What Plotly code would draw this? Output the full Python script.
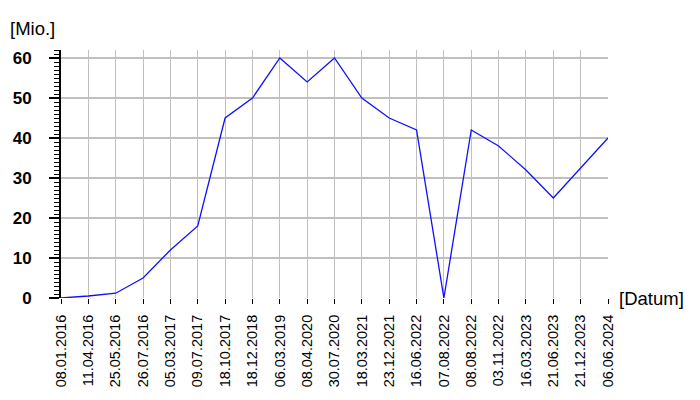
import plotly.graph_objects as go

dates = ["08.01.2016", "11.04.2016", "25.05.2016", "26.07.2016", "05.03.2017",
         "09.07.2017", "18.10.2017", "18.12.2018", "06.03.2019", "08.04.2020",
         "30.07.2020", "18.03.2021", "23.12.2021", "16.06.2022", "07.08.2022",
         "08.08.2022", "03.11.2022", "16.03.2023", "21.06.2023", "21.12.2023",
         "06.06.2024"]
values = [0, 0.5, 1.2, 5, 12, 18, 45, 50, 60, 54, 60, 50, 45, 42, 0,
          42, 38, 32, 25, 32.5, 40]
positions = list(range(len(dates)))
major_positions = positions[5::5]
y_ticks = [0, 10, 20, 30, 40, 50, 60]

FONT = "Liberation Sans, Arial, sans-serif"
GRID = "#c0c0c0"

fig = go.Figure()
fig.add_trace(go.Scatter(
    x=positions, y=values, mode="lines",
    line=dict(color="#1010ff", width=1.3),
    xaxis="x2", yaxis="y", showlegend=False, hoverinfo="skip",
))

fig.update_layout(
    template="none",
    width=700, height=400,
    margin=dict(l=53, r=100, t=42, b=110, autoexpand=False),
    paper_bgcolor="white", plot_bgcolor="white",
    font=dict(family=FONT, color="black"),
    xaxis=dict(
        range=[0, 20], tickvals=major_positions, showticklabels=False,
        ticks="outside", ticklen=8, tickwidth=2, tickcolor="black",
        showgrid=True, gridcolor=GRID, gridwidth=2,
        showline=True, linecolor="black", linewidth=2, zeroline=False,
        automargin=False,
    ),
    xaxis2=dict(
        range=[0, 20], overlaying="x", anchor="y", side="bottom",
        tickvals=positions, ticktext=dates, tickangle=-90,
        tickfont=dict(family=FONT, size=14.5, color="black"),
        ticks="outside", ticklen=5, tickwidth=1, tickcolor="black",
        showgrid=True, gridcolor=GRID, gridwidth=1,
        showline=False, zeroline=False, ticklabelstandoff=5,
        automargin=False,
    ),
    yaxis=dict(
        range=[0, 62], tickvals=y_ticks,
        tickfont=dict(family=FONT, size=17, color="black", weight="bold"),
        ticks="outside", ticklen=10, tickwidth=2, tickcolor="black",
        minor=dict(dtick=1, ticks="outside", ticklen=5, tickwidth=1,
                   tickcolor="black", showgrid=False),
        showgrid=True, gridcolor=GRID, gridwidth=2,
        showline=True, linecolor="black", linewidth=2, zeroline=False,
        ticklabelstandoff=14, automargin=False,
    ),
    annotations=[
        dict(text="[Mio.]", xref="paper", yref="paper", x=-53/547, y=(298-28)/248,
             xanchor="left", yanchor="middle", showarrow=False,
             font=dict(family=FONT, size=18.5, color="black")),
        dict(text="[Datum]", xref="paper", yref="paper", x=(617-61)/547, y=0,
             xanchor="left", yanchor="middle", showarrow=False,
             font=dict(family=FONT, size=18.5, color="black")),
    ],
)

fig.write_html("out.html")
